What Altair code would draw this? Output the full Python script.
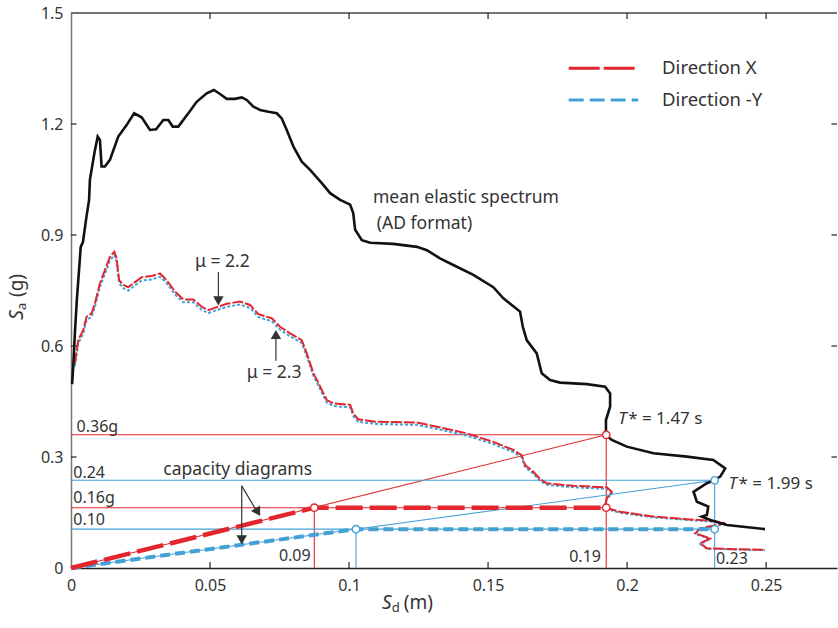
import altair as alt
import pandas as pd

# ---------------- data ----------------
# Mean elastic spectrum in AD format (Sd [m], Sa [g])
ELASTIC_SD = [0.0004, 0.0008, 0.0014, 0.0021, 0.0035, 0.0043, 0.0054, 0.0065, 0.0068, 0.0084,
              0.0096, 0.0104, 0.0110, 0.0122, 0.0140, 0.0170, 0.0200, 0.0227, 0.0254, 0.0284,
              0.0306, 0.0332, 0.0350, 0.0366, 0.0386, 0.0422, 0.0452, 0.0488, 0.0514, 0.0536,
              0.0560, 0.0590, 0.0614, 0.0632, 0.0656, 0.0680, 0.0710, 0.0740, 0.0758, 0.0776,
              0.0800, 0.0830, 0.0860, 0.0902, 0.0932, 0.0968, 0.1004, 0.1015, 0.1022, 0.1046,
              0.1076, 0.1159, 0.1244, 0.1280, 0.1327, 0.1375, 0.1447, 0.1519, 0.1555, 0.1615,
              0.1625, 0.1639, 0.1675, 0.1693, 0.1723, 0.1759, 0.1855, 0.1921, 0.1939, 0.1939,
              0.1924, 0.1924, 0.1945, 0.1999, 0.2095, 0.2215, 0.2310, 0.2353, 0.2335, 0.2310,
              0.2287, 0.2239, 0.2251, 0.2292, 0.2287, 0.2269, 0.2299, 0.2359, 0.2496]
ELASTIC_SA = [0.497, 0.544, 0.635, 0.724, 0.868, 0.881, 0.941, 0.995, 1.049, 1.121,
              1.166, 1.157, 1.085, 1.085, 1.103, 1.166, 1.197, 1.229, 1.218, 1.184,
              1.186, 1.211, 1.211, 1.193, 1.193, 1.229, 1.260, 1.283, 1.292, 1.281,
              1.268, 1.268, 1.272, 1.265, 1.247, 1.238, 1.233, 1.229, 1.215, 1.184,
              1.139, 1.098, 1.076, 1.040, 1.013, 0.995, 0.982, 0.959, 0.914, 0.886,
              0.879, 0.876, 0.868, 0.859, 0.837, 0.819, 0.792, 0.759, 0.729, 0.693,
              0.652, 0.616, 0.580, 0.526, 0.508, 0.501, 0.497, 0.490, 0.472, 0.436,
              0.400, 0.359, 0.346, 0.328, 0.310, 0.301, 0.292, 0.269, 0.247, 0.236,
              0.229, 0.206, 0.179, 0.166, 0.143, 0.139, 0.130, 0.116, 0.105]

# Inelastic spectra (mu = 2.2 direction X, mu = 2.3 direction -Y)
INEL_SD = [0.0014, 0.0026, 0.0044, 0.0056, 0.0074, 0.0086, 0.0104, 0.0122, 0.0140, 0.0156,
           0.0164, 0.0173, 0.0188, 0.0206, 0.0224, 0.0254, 0.0290, 0.0320, 0.0344, 0.0374,
           0.0404, 0.0440, 0.0470, 0.0494, 0.0524, 0.0560, 0.0608, 0.0644, 0.0674, 0.0722,
           0.0752, 0.0788, 0.0830, 0.0848, 0.0872, 0.0888, 0.0908, 0.0920, 0.0944, 0.1004,
           0.1015, 0.1033, 0.1100, 0.1244, 0.1303, 0.1423, 0.1519, 0.1591, 0.1621, 0.1633,
           0.1663, 0.1687, 0.1711, 0.1807, 0.1927, 0.1945, 0.1927, 0.1921, 0.1924, 0.1975,
           0.2095, 0.2215, 0.2310, 0.2353, 0.2263, 0.2245, 0.2299, 0.2263, 0.2287, 0.2496]
INEL_X_SA = [0.553, 0.616, 0.643, 0.679, 0.688, 0.715, 0.769, 0.805, 0.841, 0.855,
             0.837, 0.778, 0.765, 0.759, 0.769, 0.786, 0.789, 0.796, 0.778, 0.747,
             0.726, 0.726, 0.706, 0.697, 0.705, 0.714, 0.720, 0.711, 0.686, 0.675,
             0.652, 0.634, 0.616, 0.580, 0.526, 0.503, 0.472, 0.454, 0.445, 0.441,
             0.418, 0.402, 0.395, 0.393, 0.384, 0.364, 0.341, 0.319, 0.305, 0.278,
             0.260, 0.240, 0.229, 0.222, 0.218, 0.206, 0.188, 0.170, 0.163, 0.152,
             0.139, 0.132, 0.127, 0.121, 0.107, 0.094, 0.080, 0.067, 0.053, 0.049]
INEL_Y_SA = [0.545, 0.607, 0.634, 0.670, 0.679, 0.706, 0.760, 0.795, 0.831, 0.846,
             0.828, 0.770, 0.756, 0.750, 0.760, 0.777, 0.780, 0.787, 0.770, 0.739,
             0.718, 0.718, 0.698, 0.689, 0.697, 0.706, 0.712, 0.703, 0.678, 0.667,
             0.644, 0.626, 0.608, 0.572, 0.519, 0.496, 0.465, 0.447, 0.438, 0.434,
             0.411, 0.395, 0.389, 0.387, 0.378, 0.358, 0.335, 0.313, 0.299, 0.273,
             0.255, 0.235, 0.225, 0.218, 0.214, 0.202, 0.185, 0.167, 0.160, 0.149,
             0.137, 0.130, 0.125, 0.119, 0.105, 0.092, 0.078, 0.065, 0.052, 0.048]

# Capacity diagrams (bilinear)
CAP_X_SD = [0.0, 0.0875, 0.1925]
CAP_X_SA = [0.0, 0.163, 0.163]
CAP_Y_SD = [0.0, 0.1025, 0.2315]
CAP_Y_SA = [0.0, 0.105, 0.105]
# Elastic demand points (T*): [Sd, Sa]
TSTAR_X = [0.1925, 0.360]
TSTAR_Y = [0.2315, 0.237]

X_TICKS = [0, 0.05, 0.1, 0.15, 0.2, 0.25]
Y_TICKS = [0, 0.3, 0.6, 0.9, 1.2, 1.5]

# ---------------- styling ----------------
RED = "#e3262d"
BLUE = "#44a1d6"
TXT = "#333333"
FONT = "Noto Sans"
XMAX = 0.2755
YMAX = 1.5

xs = alt.Scale(domain=[0, XMAX], nice=False, zero=False)
ys = alt.Scale(domain=[0, YMAX], nice=False, zero=False)

XAX = alt.Axis(values=X_TICKS, labelExpr="'' + datum.value", tickSize=0, title=None,
               labelPadding=9, labelFontSize=16, labelColor=TXT, labelFont=FONT,
               labelFlush=False, domainColor="#222", domainWidth=1.5, grid=False)
YAX = alt.Axis(values=Y_TICKS, labelExpr="'' + datum.value", tickSize=0, title=None,
               labelPadding=8, labelFontSize=16, labelColor=TXT, labelFont=FONT,
               labelFlush=False, domainColor="#777", domainWidth=1.5, grid=False)


def X(field="x"):
    return alt.X(f"{field}:Q", scale=xs, axis=XAX, title=None)


def Y(field="y"):
    return alt.Y(f"{field}:Q", scale=ys, axis=YAX, title=None)


def line_df(sd, sa):
    return pd.DataFrame({"x": sd, "y": sa, "i": range(len(sd))})


# ---------------- frame and ticks ----------------
top_line = alt.Chart(pd.DataFrame({"x": [0.0], "x2": [XMAX], "y": [YMAX]})).mark_rule(
    color="#444", strokeWidth=1.5).encode(x=X(), x2="x2:Q", y=Y())

tick_rows = []
for v in X_TICKS[1:]:
    tick_rows.append({"x": v, "x2": v, "y": 0.0, "y2": 0.016})
    tick_rows.append({"x": v, "x2": v, "y": YMAX, "y2": YMAX - 0.016})
for v in Y_TICKS[1:-1]:
    tick_rows.append({"x": 0.0, "x2": 0.002, "y": v, "y2": v})
    tick_rows.append({"x": XMAX, "x2": XMAX - 0.002, "y": v, "y2": v})
ticks = alt.Chart(pd.DataFrame(tick_rows)).mark_rule(color="#222", strokeWidth=1.2).encode(
    x=X(), x2="x2:Q", y=Y(), y2="y2:Q")

# ---------------- guide lines ----------------
guides = pd.DataFrame([
    # direction X (red)
    {"x": 0, "y": TSTAR_X[1], "x2": TSTAR_X[0], "y2": TSTAR_X[1], "c": RED},
    {"x": 0, "y": CAP_X_SA[1], "x2": CAP_X_SD[2], "y2": CAP_X_SA[1], "c": RED},
    {"x": CAP_X_SD[1], "y": 0, "x2": CAP_X_SD[1], "y2": CAP_X_SA[1], "c": RED},
    {"x": TSTAR_X[0], "y": 0, "x2": TSTAR_X[0], "y2": TSTAR_X[1], "c": RED},
    {"x": 0, "y": 0, "x2": TSTAR_X[0], "y2": TSTAR_X[1], "c": RED},
    # direction -Y (blue)
    {"x": 0, "y": TSTAR_Y[1], "x2": TSTAR_Y[0], "y2": TSTAR_Y[1], "c": BLUE},
    {"x": 0, "y": CAP_Y_SA[1], "x2": CAP_Y_SD[2], "y2": CAP_Y_SA[1], "c": BLUE},
    {"x": CAP_Y_SD[1], "y": 0, "x2": CAP_Y_SD[1], "y2": CAP_Y_SA[1], "c": BLUE},
    {"x": TSTAR_Y[0], "y": 0, "x2": TSTAR_Y[0], "y2": TSTAR_Y[1], "c": BLUE},
    {"x": 0, "y": 0, "x2": TSTAR_Y[0], "y2": TSTAR_Y[1], "c": BLUE},
])
guide_rules = alt.Chart(guides).mark_rule(strokeWidth=1.1).encode(
    x=X(), x2="x2:Q", y=Y(), y2="y2:Q", color=alt.Color("c:N", scale=None))

# ---------------- curves ----------------
inel_y = alt.Chart(line_df(INEL_SD, INEL_Y_SA)).mark_line(
    color=BLUE, strokeWidth=2, strokeDash=[3, 2]).encode(x=X(), y=Y(), order="i:Q")
inel_x = alt.Chart(line_df(INEL_SD, INEL_X_SA)).mark_line(
    color=RED, strokeWidth=2, strokeDash=[11, 2]).encode(x=X(), y=Y(), order="i:Q")
elastic = alt.Chart(line_df(ELASTIC_SD, ELASTIC_SA)).mark_line(
    color="#111", strokeWidth=2.6).encode(x=X(), y=Y(), order="i:Q")

cap_x = alt.Chart(line_df(CAP_X_SD, CAP_X_SA)).mark_line(
    color=RED, strokeWidth=4.5, strokeDash=[27, 7]).encode(x=X(), y=Y(), order="i:Q")
cap_y = alt.Chart(line_df(CAP_Y_SD, CAP_Y_SA)).mark_line(
    color=BLUE, strokeWidth=4, strokeDash=[10, 5]).encode(x=X(), y=Y(), order="i:Q")

pts = pd.DataFrame([
    {"x": CAP_X_SD[1], "y": CAP_X_SA[1], "c": RED},
    {"x": CAP_X_SD[2], "y": CAP_X_SA[2], "c": RED},
    {"x": TSTAR_X[0], "y": TSTAR_X[1], "c": RED},
    {"x": CAP_Y_SD[1], "y": CAP_Y_SA[1], "c": BLUE},
    {"x": CAP_Y_SD[2], "y": CAP_Y_SA[2], "c": BLUE},
    {"x": TSTAR_Y[0], "y": TSTAR_Y[1], "c": BLUE},
])
circles = alt.Chart(pts).mark_point(filled=True, fill="white", size=55, strokeWidth=1.4, opacity=1).encode(
    x=X(), y=Y(), stroke=alt.Stroke("c:N", scale=None))

# ---------------- legend ----------------
leg_red = alt.Chart(pd.DataFrame({"x": [0.179, 0.204], "y": [1.351, 1.351]})).mark_line(
    color=RED, strokeWidth=3, strokeDash=[31, 4]).encode(x=X(), y=Y())
leg_blue = alt.Chart(pd.DataFrame({"x": [0.179, 0.204], "y": [1.265, 1.265]})).mark_line(
    color=BLUE, strokeWidth=3, strokeDash=[15, 6]).encode(x=X(), y=Y())
leg_text = alt.Chart(pd.DataFrame({"x": [0.2126, 0.2126], "y": [1.351, 1.265],
                                   "t": ["Direction  X", "Direction -Y"]})).mark_text(
    align="left", baseline="middle", fontSize=18.5, font=FONT, color=TXT).encode(
    x=X(), y=Y(), text="t:N")


# ---------------- annotations ----------------
def texts(rows, **kw):
    base = dict(baseline="middle", font=FONT, color=TXT, fontSize=17)
    base.update(kw)
    return alt.Chart(pd.DataFrame(rows)).mark_text(**base).encode(x=X(), y=Y(), text="t:N")


ann_main = texts([
    {"x": 0.1086, "y": 1.000, "t": "mean elastic spectrum"},
    {"x": 0.1100, "y": 0.930, "t": "(AD format)"},
    {"x": 0.0446, "y": 0.826, "t": "μ = 2.2"},
    {"x": 0.0632, "y": 0.527, "t": "μ = 2.3"},
    {"x": 0.0332, "y": 0.265, "t": "capacity diagrams"},
], align="left", fontSize=17.5)

ann_levels = texts([
    {"x": 0.0020, "y": 0.382, "t": "0.36g"},
    {"x": 0.0008, "y": 0.258, "t": "0.24"},
    {"x": 0.0008, "y": 0.188, "t": "0.16g"},
    {"x": 0.0008, "y": 0.130, "t": "0.10"},
    {"x": 0.2320, "y": 0.024, "t": "0.23"},
], align="left", fontSize=16)
ann_levels_r = texts([
    {"x": 0.0862, "y": 0.032, "t": "0.09"},
    {"x": 0.1906, "y": 0.030, "t": "0.19"},
], align="right", fontSize=16)

t_italic = texts([
    {"x": 0.1968, "y": 0.403, "t": "T"},
    {"x": 0.2365, "y": 0.227, "t": "T"},
], align="left", fontStyle="italic")
t_rest = texts([
    {"x": 0.1968, "y": 0.403, "t": "* = 1.47 s"},
    {"x": 0.2365, "y": 0.227, "t": "* = 1.99 s"},
], align="left", dx=10)

# arrows (shaft + head)
shafts = pd.DataFrame([
    {"x": 0.0530, "y": 0.800, "x2": 0.0530, "y2": 0.725},
    {"x": 0.0737, "y": 0.630, "x2": 0.0737, "y2": 0.560},
    {"x": 0.0614, "y": 0.222, "x2": 0.0614, "y2": 0.078},
    {"x": 0.0614, "y": 0.222, "x2": 0.0671, "y2": 0.150},
])
arrow_shafts = alt.Chart(shafts).mark_rule(color="#333", strokeWidth=1.2).encode(
    x=X(), x2="x2:Q", y=Y(), y2="y2:Q")
heads = pd.DataFrame([
    {"x": 0.0530, "y": 0.722, "a": 180},
    {"x": 0.0737, "y": 0.631, "a": 0},
    {"x": 0.0614, "y": 0.076, "a": 180},
    {"x": 0.0672, "y": 0.151, "a": 149},
])
arrow_heads = alt.Chart(heads).mark_point(shape="triangle-up", filled=True, color="#333",
                                          size=110, opacity=1).encode(
    x=X(), y=Y(), angle=alt.Angle("a:Q", scale=None))

# axis titles (italic S with subscripts)
xt_S = texts([{"x": 0.1136, "y": -0.094, "t": "S"}], align="center", fontStyle="italic", fontSize=19)
xt_d = texts([{"x": 0.1136, "y": -0.094, "t": "d"}], align="left", fontSize=13, dx=5, dy=5)
xt_m = texts([{"x": 0.1136, "y": -0.094, "t": "(m)"}], align="left", fontSize=19, dx=17)

yt_S = texts([{"x": -0.0194, "y": 0.735, "t": "S"}], align="center", fontStyle="italic",
             fontSize=19, angle=270, dx=-19)
yt_a = texts([{"x": -0.0194, "y": 0.735, "t": "a"}], align="left", fontSize=13,
             angle=270, dx=-14, dy=5)
yt_g = texts([{"x": -0.0194, "y": 0.735, "t": "(g)"}], align="left", fontSize=19,
             angle=270, dx=-1)

chart = alt.layer(
    guide_rules, inel_y, inel_x, elastic, cap_y, cap_x, circles,
    top_line, ticks, leg_red, leg_blue, leg_text,
    ann_main, ann_levels, ann_levels_r, t_italic, t_rest, arrow_shafts, arrow_heads,
    xt_S, xt_d, xt_m, yt_S, yt_a, yt_g,
).properties(
    width=766, height=555,
    autosize=alt.AutoSizeParams(type="none"),
    padding={"left": 71, "top": 13, "right": 1, "bottom": 60},
).configure_view(stroke=None)

chart.save("out.html", embed_options={"renderer": "svg", "actions": False})
